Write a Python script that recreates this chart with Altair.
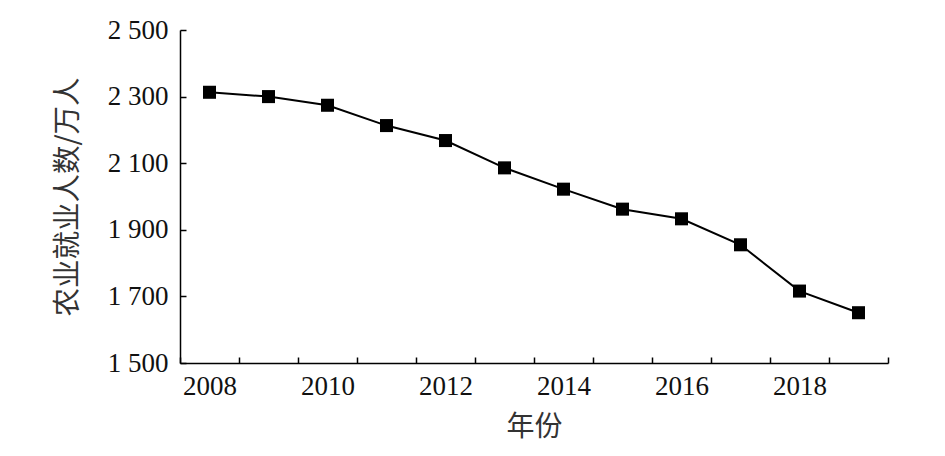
import altair as alt
import pandas as pd

years = [2008, 2009, 2010, 2011, 2012, 2013, 2014, 2015, 2016, 2017, 2018, 2019]
workers = [2313, 2300, 2274, 2213, 2168, 2086, 2022, 1962, 1933, 1855, 1716, 1651]
x_label_years = [2008, 2010, 2012, 2014, 2016, 2018]
x_boundaries = [2007.5 + i for i in range(13)]
y_ticks = [1500, 1700, 1900, 2100, 2300, 2500]

df = pd.DataFrame({"year": years, "workers": workers})

W, H = 708, 333
serif = "Liberation Serif"
cjk = "Noto Sans CJK SC"

xscale = alt.Scale(domain=[2007.5, 2019.5], nice=False, zero=False)
yscale = alt.Scale(domain=[1500, 2500], nice=False, zero=False)

base = alt.Chart(df)

main_x_axis = alt.Axis(
    orient="bottom",
    values=x_label_years, ticks=False, domain=True, domainColor="black", domainWidth=1.5,
    grid=False, labelFont=serif, labelFontSize=27, labelColor="#111", labelPadding=10,
    labelExpr="datum.value", title="年份", titleFont=cjk, titleFontSize=28,
    titleFontWeight="normal", titleColor="#333", titlePadding=14,
)
main_y_axis = alt.Axis(
    orient="left",
    values=y_ticks, ticks=False, domain=True, domainColor="black", domainWidth=1.5,
    grid=False, labelFont=serif, labelFontSize=27, labelColor="#111", labelPadding=12,
    labelExpr="replace(format(datum.value, ','), ',', ' ')",
    title="农业就业人数/万人", titleFont=cjk, titleFontSize=28.5, titleFontWeight="normal",
    titleColor="#333", titlePadding=25,
)

line = base.mark_line(color="black", strokeWidth=2).encode(
    x=alt.X("year:Q", scale=xscale, axis=main_x_axis),
    y=alt.Y("workers:Q", scale=yscale, axis=main_y_axis),
)
pts = base.mark_point(shape="square", filled=True, color="black", size=170, opacity=1).encode(
    x=alt.X("year:Q", scale=xscale, axis=None),
    y=alt.Y("workers:Q", scale=yscale, axis=None),
)

tick_x_axis = alt.Axis(
    orient="top", offset=-H, values=x_boundaries, labels=False, domain=False, grid=False,
    ticks=True, tickSize=6, tickColor="black", tickWidth=1.5, title="",
)
tick_y_axis = alt.Axis(
    orient="right", offset=-W, values=y_ticks, labels=False, domain=False, grid=False,
    ticks=True, tickSize=6, tickColor="black", tickWidth=1.5, title="",
)
ghost = base.mark_point(opacity=0).encode(
    x=alt.X("year:Q", scale=xscale, axis=tick_x_axis),
    y=alt.Y("workers:Q", scale=yscale, axis=tick_y_axis),
)

chart = (
    alt.layer(line, pts, ghost)
    .resolve_axis(x="independent", y="independent")
    .properties(
        width=W, height=H,
        background="white",
        autosize=alt.AutoSizeParams(type="none"),
        padding={"left": 172, "top": 22, "right": 40, "bottom": 90},
    )
    .configure_view(strokeWidth=0, stroke="transparent")
)

chart.save("out.html", embed_options={"renderer": "svg", "actions": False})
